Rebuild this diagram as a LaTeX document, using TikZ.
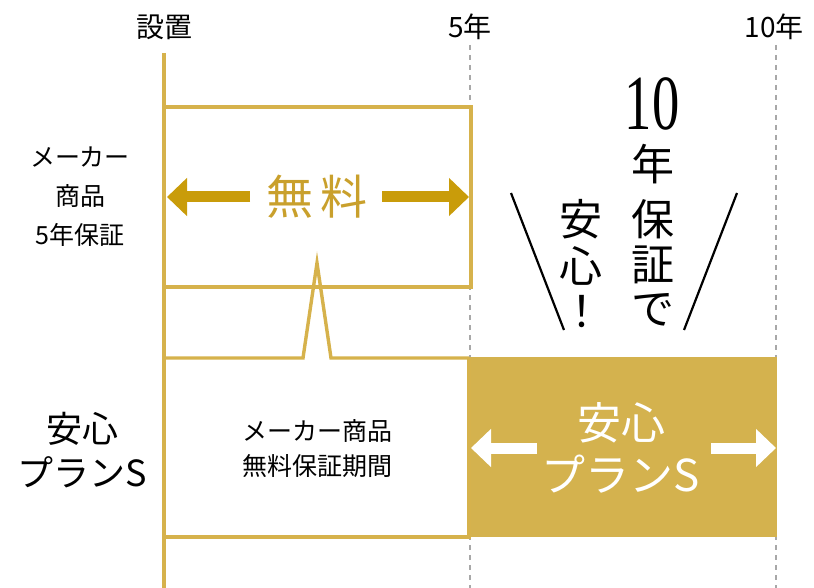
\documentclass[tikz,border=0pt]{standalone}
\usepackage{fontspec}
\setmainfont{Noto Sans CJK JP}
\newfontfamily\numserif{Liberation Serif}
\usetikzlibrary{arrows.meta}
\definecolor{goldline}{HTML}{D6B24C}
\definecolor{goldarrow}{HTML}{C99C0A}
\definecolor{goldtext}{HTML}{C9A02C}
\definecolor{goldfill}{HTML}{D4B24E}
\definecolor{dashgray}{HTML}{A8A8A8}
\tikzset{
  frameline/.style={draw=goldline, line width=3.4pt},
  guide/.style={draw=dashgray, line width=1.4pt, dash pattern=on 5pt off 5pt},
  bigarrow/.style={line width=11pt, -{Triangle[length=20pt,width=37pt]}},
  lbl/.style={font=\fontsize{25}{35}\selectfont, align=center, inner sep=0pt},
  toplbl/.style={font=\fontsize{28}{30}\selectfont, inner sep=0pt},
  vchar/.style={font=\fontsize{43}{43}\selectfont, inner sep=0pt, text=black},
}
\begin{document}
\begin{tikzpicture}[x=1pt,y=-1pt]
\useasboundingbox (0,0) rectangle (814,588);
% guides
\coordinate (g5t) at (470,45);
\coordinate (g5b) at (470,588);
\coordinate (g10t) at (776,45);
\coordinate (g10b) at (776,588);
\draw[guide] (g5t) -- (g5b);
\draw[guide] (g10t) -- (g10b);
% top labels
\node[toplbl] (t0) at (164,27) {設置};
\node[toplbl] (t5) at (470,27) {5年};
\node[toplbl] (t10) at (774,27) {10年};
% filled plan box
\fill[goldfill] (469,357) rectangle (777,537);
% upper box
\draw[frameline] (164,107) -- (471,107) -- (471,287) -- (164,287);
% lower box with spike
\draw[frameline] (164,358) -- (303,358) -- (317,263) -- (331,358) -- (469,358);
\draw[frameline] (469,358) -- (469,537) -- (164,537);
% main vertical line
\coordinate (vt) at (164,53);
\coordinate (vb) at (164,588);
\draw[draw=goldline, line width=3.8pt] (vt) -- (vb);
% free arrows
\node[font=\fontsize{47}{47}\selectfont, text=goldtext, inner sep=0pt] (free) at (317,197) {無\,料};
\coordinate (fl1) at (250,197);
\coordinate (fl2) at (167,197);
\coordinate (fr1) at (382,197);
\coordinate (fr2) at (469,197);
\draw[bigarrow, goldarrow] (fl1) -- (fl2);
\draw[bigarrow, goldarrow] (fr1) -- (fr2);
% plan arrows
\node[font=\fontsize{44}{52}\selectfont, text=white, align=center, inner sep=0pt] (plan) at (621,448) {安心\\プランS};
\coordinate (pl1) at (537,448);
\coordinate (pl2) at (471,448);
\coordinate (pr1) at (711,448);
\coordinate (pr2) at (776,448);
\draw[bigarrow, white] (pl1) -- (pl2);
\draw[bigarrow, white] (pr1) -- (pr2);
% middle text
\node[lbl] (mid) at (317,449) {メーカー商品\\無料保証期間};
% left labels
\node[font=\fontsize{25}{39}\selectfont, align=center, inner sep=0pt] (maker) at (80,197) {メーカー\\商品\\5年保証};
\node[font=\fontsize{36}{44}\selectfont, align=center, inner sep=0pt] (anshin) at (82,450) {安心\\プランS};
% 10 years text
\node[font=\numserif\fontsize{78}{78}\selectfont, xscale=0.7, inner sep=0pt, text depth=0pt] (ten) at (652,104) {10};
\node[vchar] (c1) at (653,164) {年};
\node[vchar] (c2) at (653,219) {保};
\node[vchar] (c3) at (653,265) {証};
\node[vchar] (c4) at (653,310) {で};
\node[vchar] (d1) at (581,219) {安};
\node[vchar] (d2) at (581,266) {心};
\node[vchar] (d3) at (582,312) {！};
\coordinate (sl1) at (511,193);
\coordinate (sl2) at (564,330);
\coordinate (sr1) at (737,193);
\coordinate (sr2) at (684,330);
\draw[line width=2.2pt] (sl1) -- (sl2);
\draw[line width=2.2pt] (sr1) -- (sr2);
\end{tikzpicture}
\end{document}
